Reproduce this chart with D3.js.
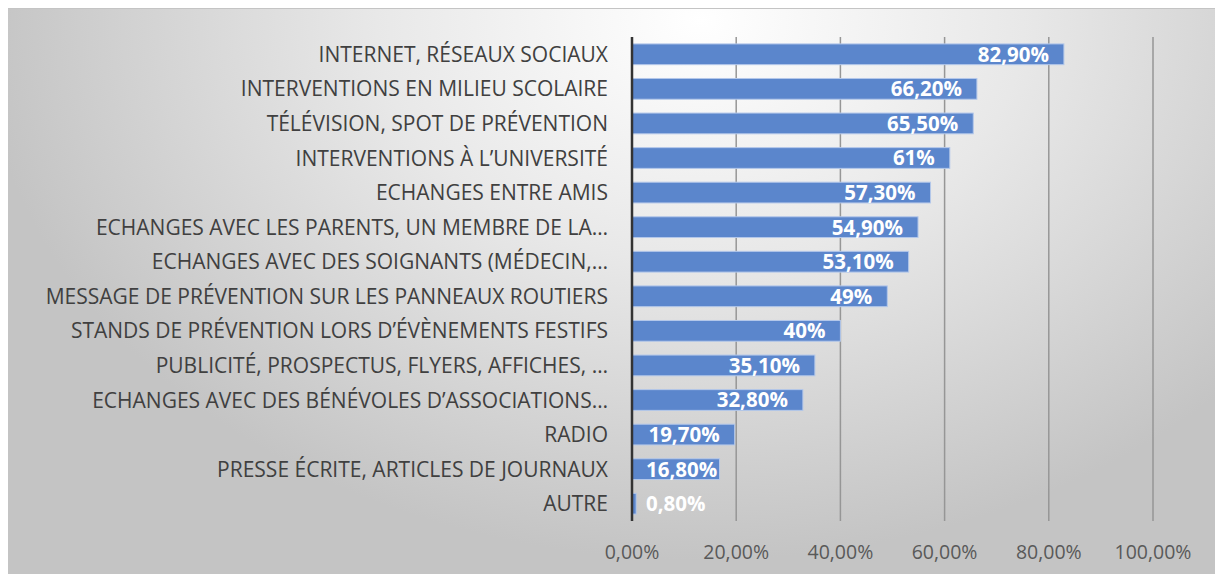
<!DOCTYPE html>
<html>
<head>
<meta charset="utf-8">
<script src="https://cdn.jsdelivr.net/npm/d3@7"></script>
<style>
  html, body { margin: 0; padding: 0; background: #fff; }
  svg { display: block; }
</style>
</head>
<body>
<div id="chart"></div>
<script>
// Data
const categories = [
    "INTERNET, RÉSEAUX SOCIAUX",
    "INTERVENTIONS EN MILIEU SCOLAIRE",
    "TÉLÉVISION, SPOT DE PRÉVENTION",
    "INTERVENTIONS À L’UNIVERSITÉ",
    "ECHANGES ENTRE AMIS",
    "ECHANGES AVEC LES PARENTS, UN MEMBRE DE LA…",
    "ECHANGES AVEC DES SOIGNANTS (MÉDECIN,…",
    "MESSAGE DE PRÉVENTION SUR LES PANNEAUX ROUTIERS",
    "STANDS DE PRÉVENTION LORS D’ÉVÈNEMENTS FESTIFS",
    "PUBLICITÉ, PROSPECTUS, FLYERS, AFFICHES, …",
    "ECHANGES AVEC DES BÉNÉVOLES D’ASSOCIATIONS…",
    "RADIO",
    "PRESSE ÉCRITE, ARTICLES DE JOURNAUX",
    "AUTRE"
];
const values = [82.9, 66.2, 65.5, 61, 57.3, 54.9, 53.1, 49, 40, 35.1, 32.8, 19.7, 16.8, 0.8];
const valueLabels = ["82,90%", "66,20%", "65,50%", "61%", "57,30%", "54,90%", "53,10%",
    "49%", "40%", "35,10%", "32,80%", "19,70%", "16,80%", "0,80%"];
const tickValues = [0, 20, 40, 60, 80, 100];
const tickLabels = ["0,00%", "20,00%", "40,00%", "60,00%", "80,00%", "100,00%"];

const W = 1215, H = 574;
const margin = { top: 37, right: 62, bottom: 53, left: 632 };

const svg = d3.select("#chart").append("svg")
    .attr("width", W)
    .attr("height", H);

// background gradient like the spreadsheet chart area
const defs = svg.append("defs");
const grad = defs.append("radialGradient")
    .attr("id", "bg")
    .attr("gradientUnits", "userSpaceOnUse")
    .attr("cx", 700).attr("cy", 20)
    .attr("r", 720)
    .attr("gradientTransform", "translate(700,20) scale(1,0.75) translate(-700,-20)");
grad.append("stop").attr("offset", "0%").attr("stop-color", "#ffffff");
grad.append("stop").attr("offset", "45%").attr("stop-color", "#e8e8e8");
grad.append("stop").attr("offset", "100%").attr("stop-color", "#c4c4c4");

svg.append("rect")
    .attr("x", 8).attr("y", 8)
    .attr("width", W - 8).attr("height", H - 8)
    .attr("fill", "url(#bg)");
svg.append("line")
    .attr("x1", 8).attr("x2", W)
    .attr("y1", 8.5).attr("y2", 8.5)
    .attr("stroke", "#c4c4c4")
    .attr("stroke-width", 1);

const x = d3.scaleLinear()
    .domain([0, 100])
    .range([margin.left, W - margin.right]);

const y = d3.scaleBand()
    .domain(categories)
    .range([margin.top, H - margin.bottom])
    .paddingInner(0.4)
    .paddingOuter(0.2);

const g = svg.append("g");

// vertical gridlines
g.selectAll(".grid")
    .data(tickValues.slice(1))
    .join("line")
    .attr("class", "grid")
    .attr("x1", d => x(d)).attr("x2", d => x(d))
    .attr("y1", margin.top).attr("y2", H - margin.bottom)
    .attr("stroke", "#969696")
    .attr("stroke-width", 1.5);

// bars
g.selectAll(".bar")
    .data(values)
    .join("rect")
    .attr("class", "bar")
    .attr("x", x(0))
    .attr("y", (d, i) => y(categories[i]))
    .attr("width", d => x(d) - x(0))
    .attr("height", y.bandwidth())
    .attr("fill", "#5b86cc")
    .attr("stroke", "#b4c8ea")
    .attr("stroke-width", 1);

// category axis line
g.append("line")
    .attr("x1", x(0)).attr("x2", x(0))
    .attr("y1", margin.top).attr("y2", H - margin.bottom)
    .attr("stroke", "#333")
    .attr("stroke-width", 2.5);

// category labels
g.selectAll(".cat")
    .data(categories)
    .join("text")
    .attr("class", "cat")
    .attr("x", x(0) - 24)
    .attr("y", d => y(d) + y.bandwidth() / 2)
    .attr("dy", "0.36em")
    .attr("text-anchor", "end")
    .attr("font-family", "'Open Sans', sans-serif")
    .attr("font-size", 21)
    .attr("fill", "#404040")
    .text(d => d);

// value labels, white bold, inside the bar end
const lbl = g.selectAll(".val")
    .data(values)
    .join("text")
    .attr("class", "val")
    .attr("y", (d, i) => y(categories[i]) + y.bandwidth() / 2)
    .attr("dy", "0.36em")
    .attr("text-anchor", "end")
    .attr("font-family", "'Open Sans', sans-serif")
    .attr("font-weight", "bold")
    .attr("font-size", 20.5)
    .attr("fill", "#ffffff")
    .text((d, i) => valueLabels[i]);

lbl.attr("x", function(d) {
    const w = this.getComputedTextLength();
    return Math.max(x(d) - 15, x(0) + 14 + w);
});

// x tick labels
g.selectAll(".tick")
    .data(tickValues)
    .join("text")
    .attr("class", "tick")
    .attr("x", d => x(d))
    .attr("y", 552)
    .attr("dy", "0.36em")
    .attr("text-anchor", "middle")
    .attr("font-family", "'Open Sans', sans-serif")
    .attr("font-size", 19.5)
    .attr("fill", "#595959")
    .text((d, i) => tickLabels[i]);
</script>
</body>
</html>
